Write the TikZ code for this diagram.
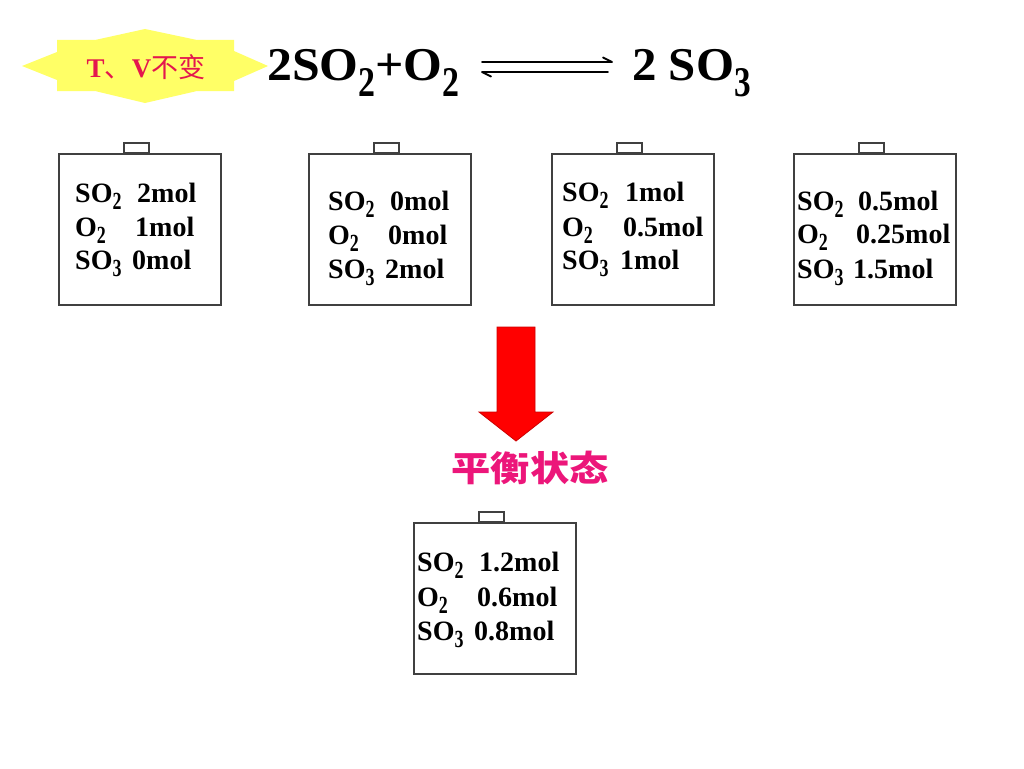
\documentclass[tikz,border=0pt]{standalone}
\usepackage{fontspec}
\usepackage{graphicx}
\setmainfont{Liberation Serif}
\newfontfamily\cjk{Noto Sans CJK SC}
\definecolor{staryellow}{RGB}{255,255,102}
\definecolor{tvred}{RGB}{228,22,78}
\definecolor{eqpink}{RGB}{236,22,122}
\definecolor{boxline}{RGB}{64,64,64}
\definecolor{arrowred}{RGB}{255,0,0}
\newcommand\subE[1]{\raisebox{-0.36em}{\scalebox{0.68}[0.9]{#1}}}
\newcommand\subB[1]{\raisebox{-0.27em}{\scalebox{0.64}[0.88]{#1}}}
\newcommand\molline[3]{\makebox[#1pt][l]{#2}#3}
\tikzset{
  vessel/.style={draw=boxline, line width=2pt, fill=white, minimum width=162pt,
    minimum height=151pt, inner sep=0pt, anchor=north west},
  tab/.style={draw=boxline, line width=2pt, fill=white},
  moltext/.style={anchor=base west, inner sep=0pt, font=\bfseries\fontsize{28}{34}\selectfont},
  eqtext/.style={anchor=base west, inner sep=0pt, font=\bfseries\fontsize{47}{52}\selectfont},
  eqline/.style={line width=1.8pt, line cap=round, line join=round},
}
\newcommand\vesselbox[3]{%
  \node[vessel] (#1) at (#2,#3) {};
  \draw[tab] ([xshift=-16.5pt]#1.north) rectangle ([xshift=8.5pt,yshift=10pt]#1.north);}
\begin{document}
\begin{tikzpicture}[x=1pt,y=-1pt]
\useasboundingbox (0,0) rectangle (1024,768);
\fill[white] (0,0) rectangle (1024,768);

% star badge
\fill[staryellow] (57,40) -- (95,40) -- (145,29) -- (197,40) -- (234,40) -- (234,51)
  -- (268,66) -- (234,81) -- (234,91) -- (197,91) -- (145,103) -- (95,91) -- (57,91)
  -- (57,80) -- (22,66) -- (57,52) -- cycle;
\node[inner sep=0pt, text=tvred, font=\fontsize{27}{30}\selectfont] (tv) at (146,67)
  {\textbf{T}{\cjk 、}\textbf{V}{\cjk 不变}};

% equation
\node[eqtext] (lhs) at (267,80) {\scalebox{1.06}[1]{2SO\subE{2}+O\subE{2}}};
\node[eqtext] (rhs) at (632,80) {\scalebox{1.04}[1]{2 SO\subE{3}}};
\coordinate (fa) at (482,62); \coordinate (fb) at (612,62); \coordinate (fbb) at (603,57.5);
\coordinate (ra) at (608,72); \coordinate (rb) at (482,72); \coordinate (rbb) at (491,76.5);
\draw[eqline] (fa) -- (fb) -- (fbb);
\draw[eqline] (ra) -- (rb) -- (rbb);

% vessels
\vesselbox{v1}{58}{153}
\vesselbox{v2}{308}{153}
\vesselbox{v3}{551}{153}
\vesselbox{v4}{793}{153}
\vesselbox{v5}{413}{522}

\node[moltext] (v1a) at (75,202) {\molline{62}{SO\subB{2}}{2mol}};
\node[moltext] (v1b) at (75,236) {\molline{60}{O\subB{2}}{1mol}};
\node[moltext] (v1c) at (75,269) {\molline{57}{SO\subB{3}}{0mol}};

\node[moltext] (v2a) at (328,210) {\molline{62}{SO\subB{2}}{0mol}};
\node[moltext] (v2b) at (328,244) {\molline{60}{O\subB{2}}{0mol}};
\node[moltext] (v2c) at (328,278) {\molline{57}{SO\subB{3}}{2mol}};

\node[moltext] (v3a) at (562,201) {\molline{63}{SO\subB{2}}{1mol}};
\node[moltext] (v3b) at (562,236) {\molline{61}{O\subB{2}}{0.5mol}};
\node[moltext] (v3c) at (562,269) {\molline{58}{SO\subB{3}}{1mol}};

\node[moltext] (v4a) at (797,210) {\molline{61}{SO\subB{2}}{0.5mol}};
\node[moltext] (v4b) at (797,243) {\molline{59}{O\subB{2}}{0.25mol}};
\node[moltext] (v4c) at (797,278) {\molline{56}{SO\subB{3}}{1.5mol}};

\node[moltext] (v5a) at (417,571) {\molline{62}{SO\subB{2}}{1.2mol}};
\node[moltext] (v5b) at (417,606) {\molline{60}{O\subB{2}}{0.6mol}};
\node[moltext] (v5c) at (417,640) {\molline{57}{SO\subB{3}}{0.8mol}};

% big red arrow
\draw[fill=arrowred, draw=red!80!black, line width=0.8pt, line join=miter]
  (497,327) -- (535,327) -- (535,412) -- (553,412) -- (516,441) -- (479,412) -- (497,412) -- cycle;

% equilibrium label
\node[inner sep=0pt, text=eqpink, font=\cjk\bfseries\fontsize{35}{40}\selectfont] (eq) at (530,468)
  {\scalebox{1.12}[1]{平衡状态}};
\end{tikzpicture}
\end{document}
